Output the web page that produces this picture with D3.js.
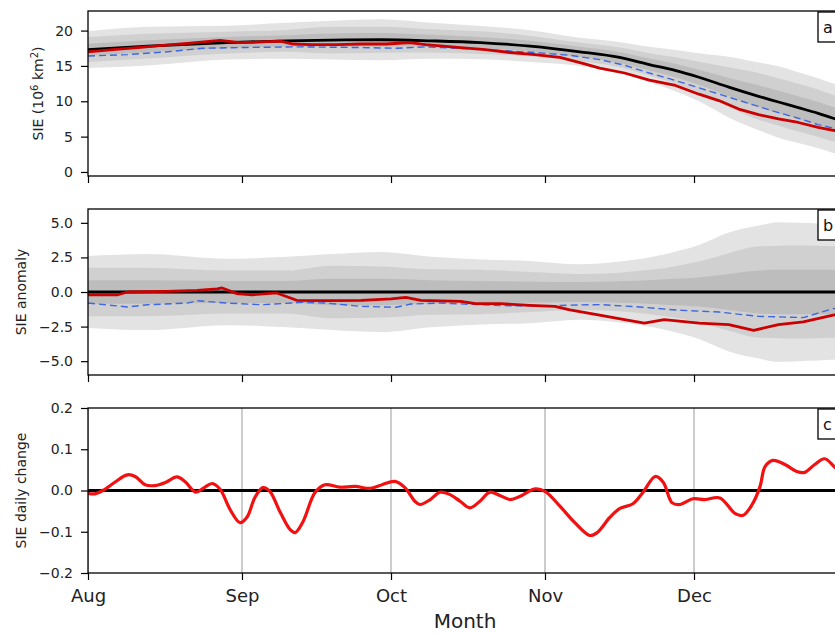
<!DOCTYPE html>
<html>
<head>
<meta charset="utf-8">
<script src="https://cdn.jsdelivr.net/npm/d3@7"></script>
<style>
  html, body { margin: 0; padding: 0; background: #fff; }
  svg { display: block; font-family: "DejaVu Sans", sans-serif; }
</style>
</head>
<body>
<svg id="chart" width="835" height="634"></svg>
<script>
// ---------------- DATA (days counted from 1 August) ----------------
const monthNames = ["Aug", "Sep", "Oct", "Nov", "Dec"];
const monthStartDays = [0, 31, 61, 92, 122];

// climatology (black) and ensemble spread bands share the same days
const climDays = [0, 12, 28, 40, 49, 59, 69, 79, 89, 99, 107, 113, 118, 123, 129, 135, 139, 143, 147, 150, 155];
const climSIE  = [17.3, 17.8, 18.3, 18.55, 18.65, 18.7, 18.55, 18.3, 17.8, 17.0, 16.2, 15.2, 14.4, 13.4, 12.0, 10.7, 9.9, 9.1, 8.3, 7.6, 6.7];
const outerHalf  = [2.6, 2.75, 2.4, 2.55, 2.75, 2.9, 2.55, 2.35, 2.25, 2.0, 2.2, 2.5, 2.9, 3.4, 4.3, 4.8, 5.05, 5.0, 4.95, 4.9, 4.8];
const middleHalf = [1.75, 1.75, 1.55, 1.55, 1.9, 1.85, 1.65, 1.6, 1.45, 1.3, 1.4, 1.6, 1.85, 2.2, 2.8, 3.3, 3.35, 3.37, 3.35, 3.3, 3.25];
const innerHalf  = [0.85, 0.85, 0.8, 0.8, 0.95, 0.95, 0.85, 0.8, 0.75, 0.72, 0.78, 0.85, 0.95, 1.05, 1.3, 1.55, 1.6, 1.6, 1.6, 1.6, 1.6];

// observed SIE (red), panel a
const obsDays = [0, 5, 10, 15, 20, 26.6, 30.6, 35, 38.7, 41.3, 45, 50, 55, 60, 64.8, 68, 75, 80, 85, 90, 95, 100, 103, 108, 113, 118, 123, 127, 131, 135, 139, 143, 147, 150, 153];
const obsSIE  = [17.0, 17.3, 17.6, 17.9, 18.2, 18.6, 18.3, 18.4, 18.5, 18.1, 18.0, 18.0, 18.1, 18.1, 18.3, 18.0, 17.6, 17.3, 16.9, 16.6, 16.2, 15.3, 14.7, 14.0, 13.0, 12.3, 11.0, 10.1, 8.9, 8.1, 7.5, 7.0, 6.3, 5.9, 5.6];

// forecast mean SIE (blue dashed), panel a
const fcDays = [0, 8, 16, 23, 31, 42, 55, 62, 68, 80, 90, 97, 103, 108, 113, 118, 123, 128, 133, 138, 143, 147, 150, 153];
const fcSIE  = [16.4, 16.6, 17.0, 17.5, 17.6, 17.7, 17.6, 17.5, 17.7, 17.3, 16.9, 16.5, 15.9, 15.1, 14.0, 13.0, 11.9, 10.8, 9.7, 8.6, 7.6, 6.7, 6.2, 5.9];

// observed anomaly (red), panel b
const anomObsDays = [0, 6, 8, 16, 22, 26, 27, 30, 33, 38, 42, 48, 55, 61, 64, 67, 75, 78, 83, 89, 94, 97, 103, 108, 112, 116, 123, 129, 134, 139, 144, 150, 153];
const anomObs     = [-0.2, -0.2, 0.0, 0.05, 0.12, 0.22, 0.29, -0.12, -0.2, -0.07, -0.6, -0.63, -0.6, -0.5, -0.39, -0.6, -0.68, -0.84, -0.84, -0.96, -1.04, -1.3, -1.68, -2.0, -2.25, -2.0, -2.25, -2.36, -2.77, -2.36, -2.16, -1.68, -1.5];

// forecast anomaly (blue dashed), panel b
const anomFcDays = [0, 8, 12, 20, 22, 28, 35, 43, 48, 55, 62, 65, 71, 79, 85, 93, 99, 103, 111, 119, 127, 135, 144, 150, 153];
const anomFc     = [-0.8, -1.08, -0.92, -0.8, -0.63, -0.8, -0.92, -0.75, -0.8, -1.04, -1.1, -0.87, -0.8, -0.92, -1.0, -1.0, -0.93, -0.91, -1.08, -1.32, -1.45, -1.76, -1.85, -1.2, -1.1];

// daily change (red), panel c
const chgDays = [0, 1.4, 3, 5.4, 7.9, 9.5, 11.5, 13.5, 15.5, 17.9, 19.5, 21.7, 23.4, 25, 26.6, 28.6, 30.6, 32, 33.6, 35.2, 36.6, 38.7, 40.7, 41.7, 43.3, 45.7, 47.7, 50.7, 53.8, 56.8, 59.2, 61.8, 63.8, 65.8, 66.8, 68.9, 70.9, 72.9, 74.9, 76.9, 78.9, 80.9, 82.9, 85, 87, 90, 92, 95, 98, 101, 102.5, 105, 107, 109.7, 111.7, 114.2, 115.8, 117.6, 119.2, 121.8, 124.2, 127.2, 130.3, 131.9, 133.7, 135.3, 136.3, 137.9, 140.3, 142.7, 144.3, 146.3, 148.3, 150.4, 152];
const chgVals = [-0.007, -0.008, 0.0, 0.02, 0.038, 0.034, 0.014, 0.012, 0.019, 0.033, 0.022, -0.004, 0.007, 0.017, 0.003, -0.046, -0.078, -0.065, -0.017, 0.007, -0.002, -0.053, -0.095, -0.102, -0.075, -0.005, 0.014, 0.008, 0.01, 0.005, 0.014, 0.022, 0.007, -0.026, -0.034, -0.022, -0.004, -0.01, -0.026, -0.042, -0.026, -0.004, -0.012, -0.022, -0.014, 0.004, -0.002, -0.038, -0.078, -0.109, -0.102, -0.066, -0.044, -0.032, -0.005, 0.034, 0.02, -0.03, -0.034, -0.02, -0.022, -0.018, -0.056, -0.06, -0.034, 0.01, 0.058, 0.073, 0.063, 0.046, 0.044, 0.063, 0.077, 0.056, 0.04];

const ticksA = [0, 5, 10, 15, 20];
const ticksB = [-5.0, -2.5, 0.0, 2.5, 5.0];
const ticksC = [-0.2, -0.1, 0.0, 0.1, 0.2];
const panelLetters = ["a", "b", "c"];
const yLabels = ["SIE (10", "SIE anomaly", "SIE daily change"];
const xTitle = "Month";

// ---------------- LAYOUT ----------------
const svg = d3.select("#chart");
const left = 88, right = 848;
const x = d3.scaleLinear().domain([0, 153]).range([left, right]);

const panels = [
  { top: 11,  bottom: 176, domain: [-0.57, 22.77], ticks: ticksA, fmt: d3.format("d") },
  { top: 209, bottom: 375, domain: [-6, 6],        ticks: ticksB, fmt: d3.format(".1f") },
  { top: 408, bottom: 573, domain: [-0.2, 0.2],    ticks: ticksC, fmt: d3.format(".1f") }
];
panels.forEach(p => { p.y = d3.scaleLinear().domain(p.domain).range([p.bottom, p.top]); });

const defs = svg.append("defs");
panels.forEach((p, i) => {
  defs.append("clipPath").attr("id", "clip" + i)
    .append("rect").attr("x", left).attr("y", p.top).attr("width", right - left).attr("height", p.bottom - p.top);
});

const shades = ["#e3e3e3", "#d0d0d0", "#bdbdbd"];
const halves = [outerHalf, middleHalf, innerHalf];
const redDark = "#cc0000", redBright = "#f21010", blue = "#3e66e0";

function lineGen(p, xs, ys, curve) {
  return d3.line().x((d, i) => x(xs[i])).y((d, i) => p.y(ys[i])).curve(curve || d3.curveLinear)(ys);
}

// ---------- Panel a ----------
{
  const p = panels[0];
  const g = svg.append("g").attr("clip-path", "url(#clip0)");
  halves.forEach((h, k) => {
    const area = d3.area()
      .x((d, i) => x(climDays[i]))
      .y0((d, i) => p.y(climSIE[i] - h[i]))
      .y1((d, i) => p.y(climSIE[i] + h[i]))
      .curve(d3.curveMonotoneX);
    g.append("path").attr("d", area(climSIE)).attr("fill", shades[k]);
  });
  g.append("path").attr("d", lineGen(p, climDays, climSIE, d3.curveMonotoneX))
    .attr("fill", "none").attr("stroke", "#000").attr("stroke-width", 2.8);
  g.append("path").attr("d", lineGen(p, fcDays, fcSIE))
    .attr("fill", "none").attr("stroke", blue).attr("stroke-width", 1.4).attr("stroke-dasharray", "7,4");
  g.append("path").attr("d", lineGen(p, obsDays, obsSIE))
    .attr("fill", "none").attr("stroke", redDark).attr("stroke-width", 2.8).attr("stroke-linejoin", "round");
}

// ---------- Panel b ----------
{
  const p = panels[1];
  const g = svg.append("g").attr("clip-path", "url(#clip1)");
  halves.forEach((h, k) => {
    const area = d3.area()
      .x((d, i) => x(climDays[i]))
      .y0((d, i) => p.y(-h[i]))
      .y1((d, i) => p.y(h[i]))
      .curve(d3.curveMonotoneX);
    g.append("path").attr("d", area(h)).attr("fill", shades[k]);
  });
  g.append("line").attr("x1", left).attr("x2", right).attr("y1", p.y(0)).attr("y2", p.y(0))
    .attr("stroke", "#000").attr("stroke-width", 2.8);
  g.append("path").attr("d", lineGen(p, anomFcDays, anomFc))
    .attr("fill", "none").attr("stroke", blue).attr("stroke-width", 1.4).attr("stroke-dasharray", "7,4");
  g.append("path").attr("d", lineGen(p, anomObsDays, anomObs))
    .attr("fill", "none").attr("stroke", redDark).attr("stroke-width", 2.8).attr("stroke-linejoin", "round");
}

// ---------- Panel c ----------
{
  const p = panels[2];
  const g = svg.append("g").attr("clip-path", "url(#clip2)");
  monthStartDays.forEach(d => {
    g.append("line").attr("x1", x(d)).attr("x2", x(d)).attr("y1", p.top).attr("y2", p.bottom)
      .attr("stroke", "#9a9a9a").attr("stroke-width", 1);
  });
  g.append("line").attr("x1", left).attr("x2", right).attr("y1", p.y(0)).attr("y2", p.y(0))
    .attr("stroke", "#000").attr("stroke-width", 2.8);
  g.append("path").attr("d", lineGen(p, chgDays, chgVals, d3.curveCatmullRom.alpha(0.5)))
    .attr("fill", "none").attr("stroke", redBright).attr("stroke-width", 3.2).attr("stroke-linejoin", "round");
}

// ---------- Axes, frames, labels ----------
panels.forEach((p, i) => {
  svg.append("rect").attr("x", left).attr("y", p.top).attr("width", right - left).attr("height", p.bottom - p.top)
    .attr("fill", "none").attr("stroke", "#000").attr("stroke-width", 1.3);

  const ya = svg.append("g").attr("transform", `translate(${left},0)`)
    .call(d3.axisLeft(p.y).tickValues(p.ticks).tickFormat(v => p.fmt(v).replace("-", "\u2212")).tickSize(7).tickPadding(8).tickSizeOuter(0));
  ya.select(".domain").remove();
  ya.selectAll("text").attr("font-size", 14).attr("fill", "#222").attr("font-family", "DejaVu Sans");
  ya.selectAll("line").attr("stroke", "#000").attr("stroke-width", 1.2);

  const xa = svg.append("g").attr("transform", `translate(0,${p.bottom})`)
    .call(d3.axisBottom(x).tickValues(monthStartDays).tickFormat((d, k) => i === 2 ? monthNames[k] : "").tickSize(7).tickPadding(9).tickSizeOuter(0));
  xa.select(".domain").remove();
  xa.selectAll("text").attr("font-size", 18).attr("fill", "#222").attr("font-family", "DejaVu Sans");
  xa.selectAll("line").attr("stroke", "#000").attr("stroke-width", 1.2);

  // panel letter box
  svg.append("rect").attr("x", 818).attr("y", p.top + 1).attr("width", 40).attr("height", 30)
    .attr("fill", "#fff").attr("stroke", "#000").attr("stroke-width", 1.3);
  svg.append("text").attr("x", 823).attr("y", p.top + 22).attr("font-size", 16).attr("fill", "#111")
    .text(panelLetters[i]);
});

// y-axis labels
{
  const pa = panels[0];
  const t = svg.append("text").attr("transform", `translate(43,${(pa.top + pa.bottom) / 2}) rotate(-90)`)
    .attr("text-anchor", "middle").attr("font-size", 14).attr("fill", "#222");
  t.append("tspan").text(yLabels[0]);
  t.append("tspan").attr("baseline-shift", "super").attr("font-size", 10).text("6");
  t.append("tspan").text(" km");
  t.append("tspan").attr("baseline-shift", "super").attr("font-size", 10).text("2");
  t.append("tspan").text(")");
}
[1, 2].forEach(i => {
  const p = panels[i];
  svg.append("text").attr("transform", `translate(26,${(p.top + p.bottom) / 2}) rotate(-90)`)
    .attr("text-anchor", "middle").attr("font-size", 14).attr("fill", "#222").text(yLabels[i]);
});

svg.append("text").attr("x", 465).attr("y", 628).attr("text-anchor", "middle")
  .attr("font-size", 20).attr("fill", "#222").text(xTitle);
</script>
</body>
</html>
